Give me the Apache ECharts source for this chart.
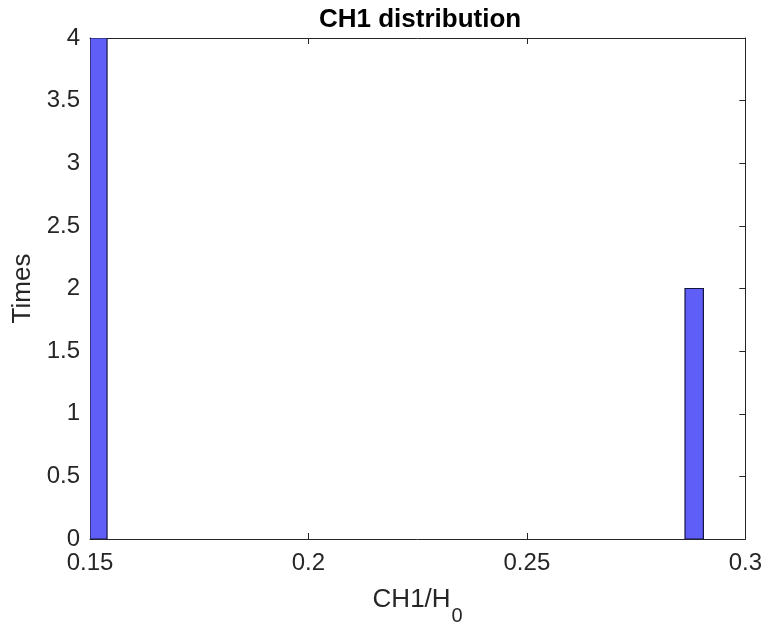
<!DOCTYPE html>
<html><head><meta charset="utf-8">
<script src="https://cdn.jsdelivr.net/npm/echarts@6/dist/echarts.min.js"></script>
<style>html,body{margin:0;padding:0;background:#fff}#c{width:765px;height:631px}</style>
</head><body><div id="c"></div>
<script>
// histogram bins: [left edge, right edge]
const binStarts = [0.1498, 0.2862];
const binEnds = [0.1539, 0.2904];
const counts = [4, 2];
const xTicks = [0.15, 0.2, 0.25, 0.3];
const yTicks = [0, 0.5, 1, 1.5, 2, 2.5, 3, 3.5, 4];

const data = counts.map((c, i) => [binStarts[i], binEnds[i], c]);
const font = 'Liberation Sans, Arial, sans-serif';
const axCol = '#262626';

const chart = echarts.init(document.getElementById('c'), null, {renderer: 'canvas'});
const xBase = {
  type: 'value', min: 0.15, max: 0.3, interval: 0.05,
  axisLine: {show: true, onZero: false, lineStyle: {color: axCol, width: 1}},
  axisTick: {show: true, inside: true, length: 6, lineStyle: {color: axCol}},
  splitLine: {show: false}
};
const yBase = {
  type: 'value', min: 0, max: 4, interval: 0.5,
  axisLine: {show: true, onZero: false, lineStyle: {color: axCol, width: 1}},
  axisTick: {show: true, inside: true, length: 6, lineStyle: {color: axCol}},
  splitLine: {show: false}
};
chart.setOption({
  animation: false,
  title: {
    text: 'CH1 distribution', left: 314, top: 2,
    textStyle: {fontFamily: font, fontSize: 26, fontWeight: 'bold', color: '#000'}
  },
  grid: {left: 90, right: 19, top: 38, bottom: 89},
  xAxis: [
    Object.assign({}, xBase, {
      position: 'bottom',
      axisLabel: {show: true, margin: 12, fontFamily: font, fontSize: 24, color: axCol,
        formatter: v => xTicks.includes(+v.toFixed(2)) ? String(+v.toFixed(2)) : ''},
      name: '{a|CH1/H}{b|0}', nameLocation: 'middle', nameGap: 48,
      nameTextStyle: {rich: {
        a: {fontFamily: font, fontSize: 26, lineHeight: 26, color: axCol, verticalAlign: 'top'},
        b: {fontFamily: font, fontSize: 20, lineHeight: 20, color: axCol, verticalAlign: 'top', padding: [19, 0, 0, 1]}
      }}
    }),
    Object.assign({}, xBase, {position: 'top', axisLabel: {show: false}})
  ],
  yAxis: [
    Object.assign({}, yBase, {
      position: 'left',
      axisLabel: {show: true, margin: 10, fontFamily: font, fontSize: 24, color: axCol,
        formatter: v => yTicks.includes(+v.toFixed(1)) ? String(+v.toFixed(1)) : ''},
      name: 'Times', nameLocation: 'middle', nameGap: 52, nameRotate: 90,
      nameTextStyle: {fontFamily: font, fontSize: 26, color: axCol}
    }),
    Object.assign({}, yBase, {position: 'right', axisLabel: {show: false}})
  ],
  series: [{
    type: 'custom',
    clip: true,
    data: data,
    encode: {x: [0, 1], y: 2},
    renderItem: function (params, api) {
      const p0 = api.coord([api.value(0), 0]);
      const p1 = api.coord([api.value(1), api.value(2)]);
      const shape = echarts.graphic.clipRectByRect({
        x: p0[0], y: p1[1], width: p1[0] - p0[0], height: p0[1] - p1[1]
      }, {
        x: params.coordSys.x, y: params.coordSys.y,
        width: params.coordSys.width, height: params.coordSys.height
      });
      return shape && {
        type: 'rect', shape: shape,
        style: {fill: '#5f5ff7', stroke: '#141440', lineWidth: 1.2}
      };
    }
  }]
});
</script></body></html>
